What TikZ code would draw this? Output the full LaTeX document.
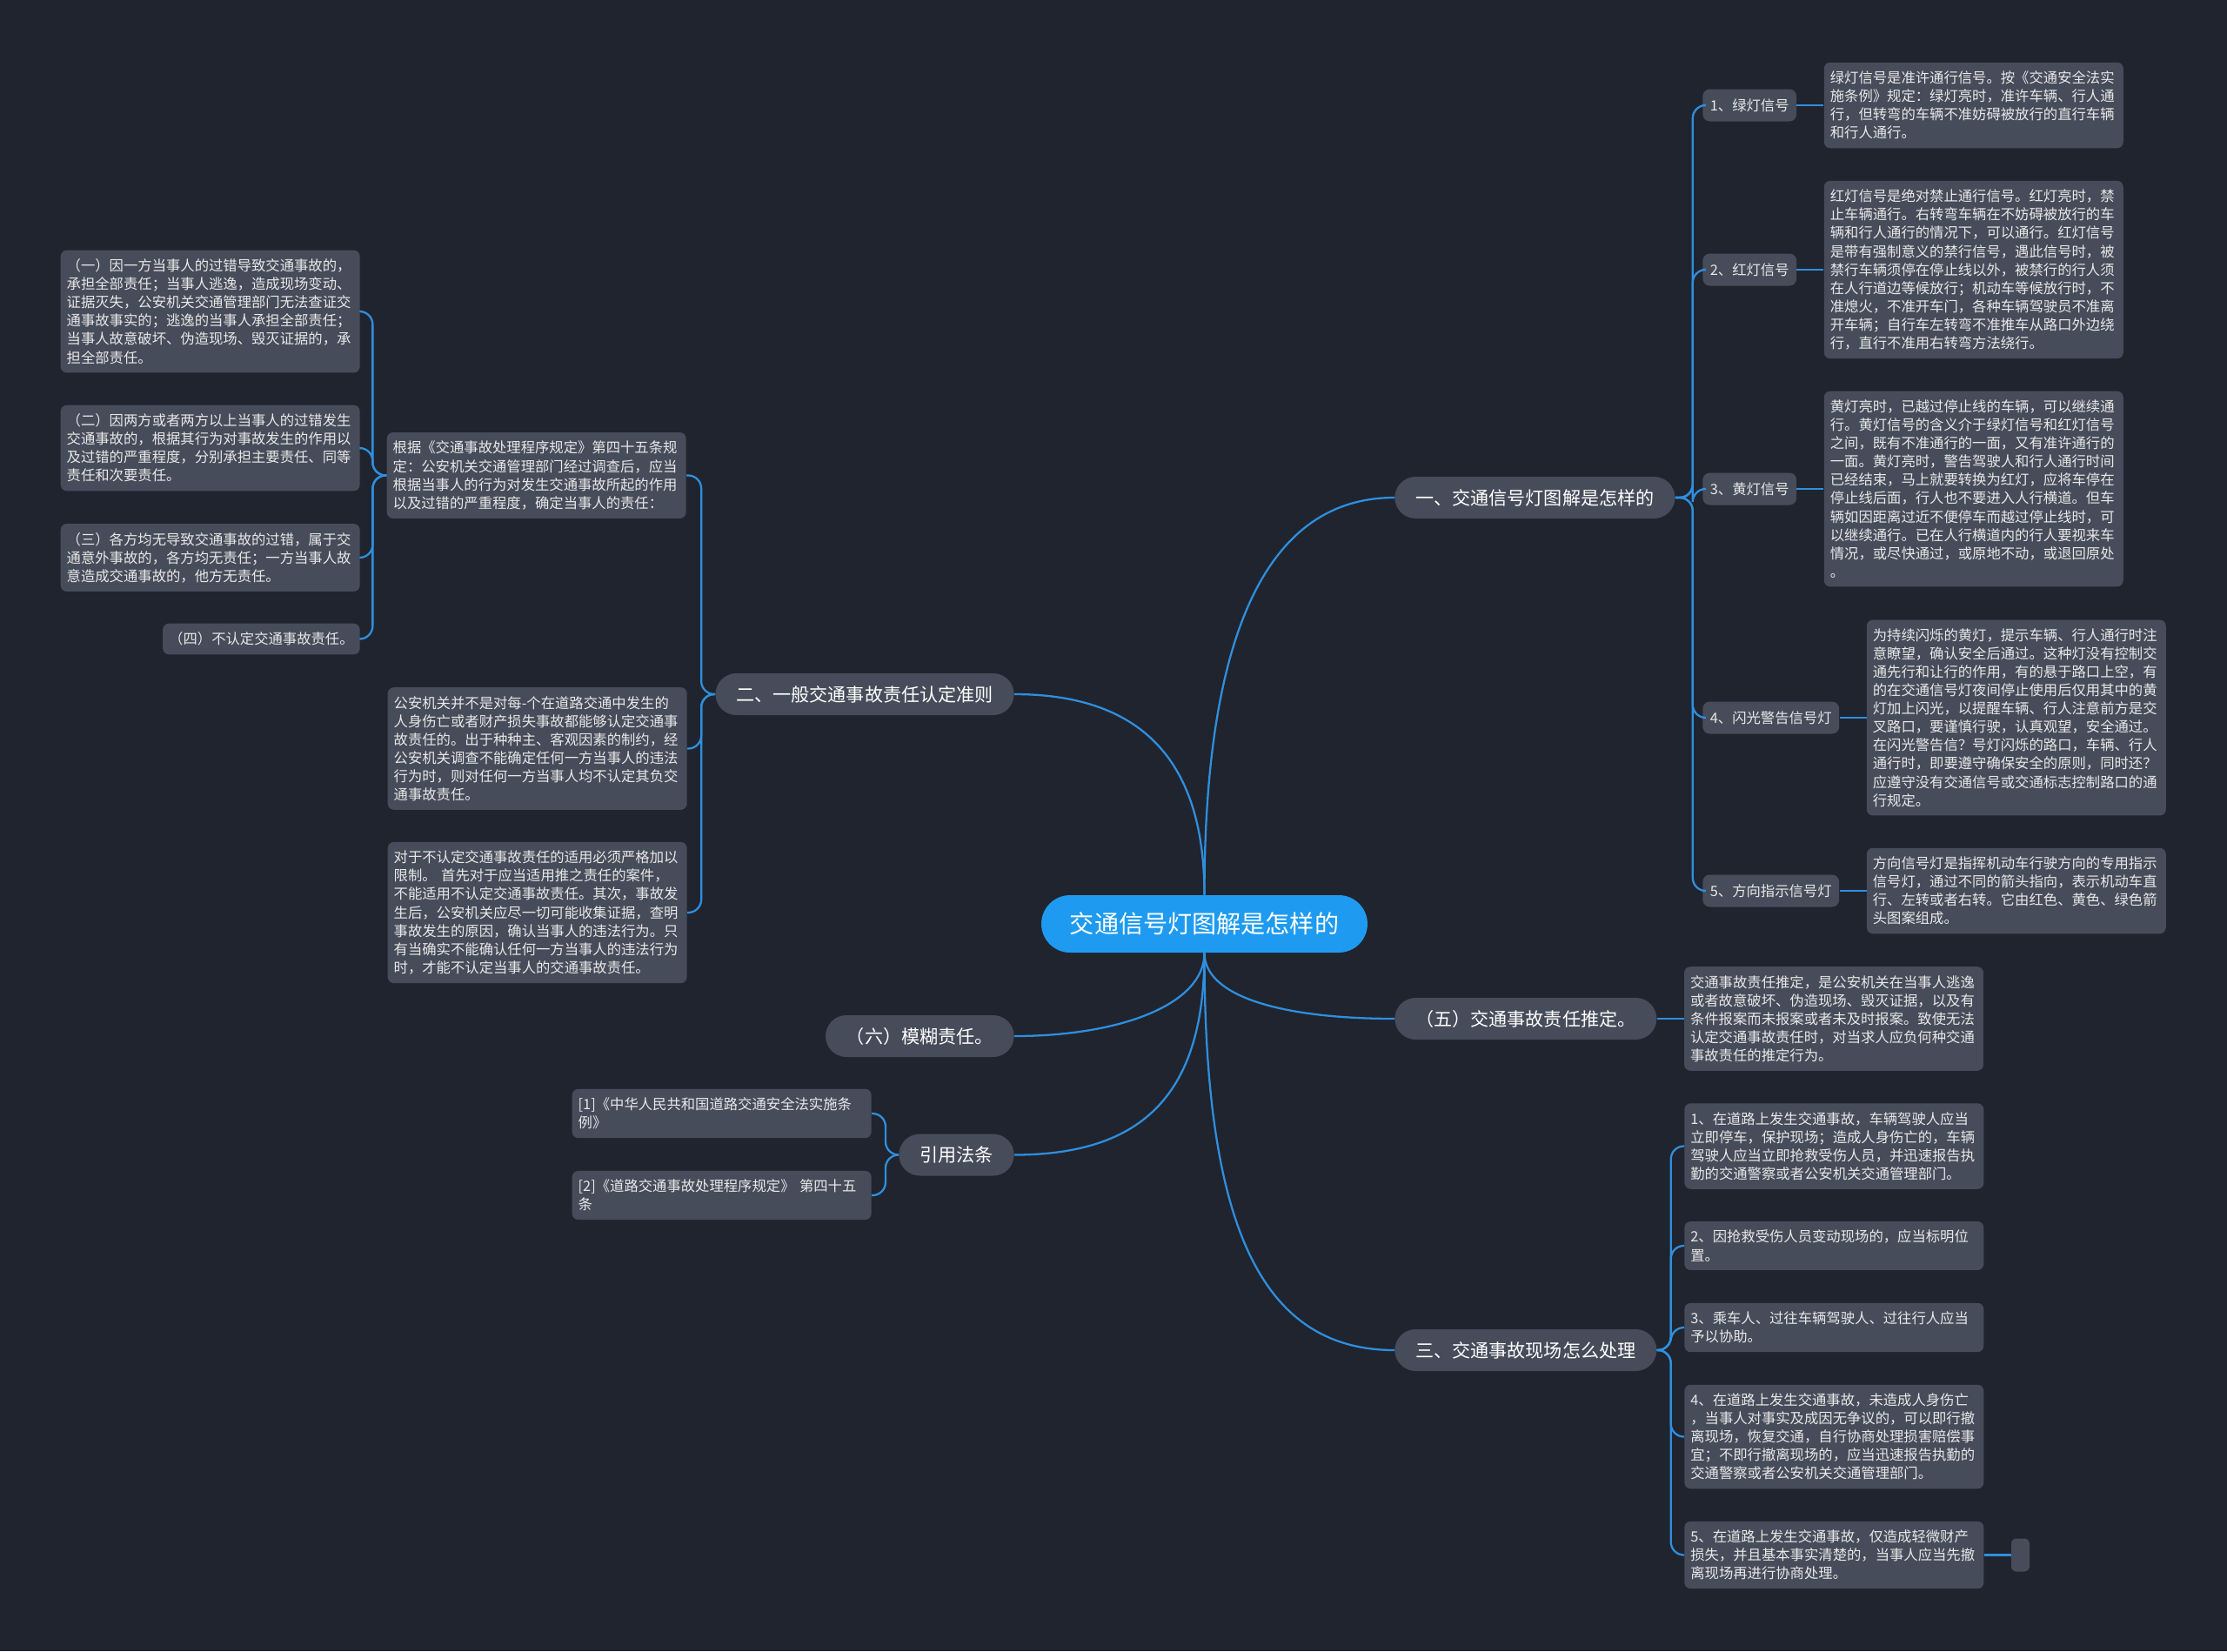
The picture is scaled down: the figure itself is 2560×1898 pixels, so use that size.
\documentclass[tikz,border=0pt]{standalone}
\usepackage{fontspec}
\setmainfont{Noto Sans CJK SC}
\usetikzlibrary{positioning}

\definecolor{bgcol}{HTML}{20242F}
\definecolor{boxcol}{HTML}{474C5A}
\definecolor{rootcol}{HTML}{1E9BF0}
\definecolor{linecol}{HTML}{2F8FDE}
\definecolor{txtcol}{HTML}{E8E8E8}

\begin{document}
\begin{tikzpicture}[
    x=0.02cm, y=-0.02cm,
    root/.style={fill=rootcol, text=white, rounded corners=0.66cm, minimum width=7.5cm, minimum height=1.32cm, font=\fontsize{16}{19}\selectfont},
    topic/.style={fill=boxcol, text=white, rounded corners=0.48cm, minimum height=0.96cm, inner xsep=0.48cm, font=\fontsize{12}{14}\selectfont},
    subtopic/.style={fill=boxcol, text=txtcol, rounded corners=0.16cm, minimum height=0.74cm, inner xsep=0.17cm, font=\fontsize{9.3}{12}\selectfont},
    note/.style={fill=boxcol, text=txtcol, rounded corners=0.14cm, align=left, inner xsep=0.14cm, inner ysep=0.2cm, font=\fontsize{9.3}{12}\selectfont},
    notew/.style={note, text width=6.6cm},
    stub/.style={fill=boxcol, rounded corners=0.12cm, minimum width=0.42cm, minimum height=0.76cm, inner sep=0pt},
    branch/.style={draw=linecol, line width=1.3pt},
    bracket/.style={branch, rounded corners=0.3cm}
]

    % Separacion entre nodo y nota
    \def\gap{0.62cm}

    % Fondo
    \fill[bgcol] (0,0) rectangle (2560,1898);

    % Nodo central y temas principales
    \node[root] (root) at (1384.5,1062) {交通信号灯图解是怎样的};
    \node[topic, anchor=west] (n1) at (1603,572) {一、交通信号灯图解是怎样的};
    \node[topic, anchor=east] (n2) at (1166,798) {二、一般交通事故责任认定准则};
    \node[topic, anchor=west] (n5) at (1603,1171) {（五）交通事故责任推定。};
    \node[topic, anchor=east] (n6) at (1166,1191) {（六）模糊责任。};
    \node[topic, anchor=east] (nref) at (1166,1327.5) {引用法条};
    \node[topic, anchor=west] (n3) at (1603,1552) {三、交通事故现场怎么处理};

    % Rama uno: senales
    \node[subtopic, anchor=west] (l1) at (1957,121) {1、绿灯信号};
    \node[subtopic, anchor=west] (l2) at (1957,310) {2、红灯信号};
    \node[subtopic, anchor=west] (l3) at (1957,562) {3、黄灯信号};
    \node[subtopic, anchor=west] (l4) at (1957,825) {4、闪光警告信号灯};
    \node[subtopic, anchor=west] (l5) at (1957,1024) {5、方向指示信号灯};

    \node[notew, right=\gap of l1] (t1) {绿灯信号是准许通行信号。按《交通安全法实\\
施条例》规定：绿灯亮时，准许车辆、行人通\\
行，但转弯的车辆不准妨碍被放行的直行车辆\\
和行人通行。};
    \node[notew, right=\gap of l2] (t2) {红灯信号是绝对禁止通行信号。红灯亮时，禁\\
止车辆通行。右转弯车辆在不妨碍被放行的车\\
辆和行人通行的情况下，可以通行。红灯信号\\
是带有强制意义的禁行信号，遇此信号时，被\\
禁行车辆须停在停止线以外，被禁行的行人须\\
在人行道边等候放行；机动车等候放行时，不\\
准熄火，不准开车门，各种车辆驾驶员不准离\\
开车辆；自行车左转弯不准推车从路口外边绕\\
行，直行不准用右转弯方法绕行。};
    \node[notew, right=\gap of l3] (t3) {黄灯亮时，已越过停止线的车辆，可以继续通\\
行。黄灯信号的含义介于绿灯信号和红灯信号\\
之间，既有不准通行的一面，又有准许通行的\\
一面。黄灯亮时，警告驾驶人和行人通行时间\\
已经结束，马上就要转换为红灯，应将车停在\\
停止线后面，行人也不要进入人行横道。但车\\
辆如因距离过近不便停车而越过停止线时，可\\
以继续通行。已在人行横道内的行人要视来车\\
情况，或尽快通过，或原地不动，或退回原处\\
。};
    \node[notew, right=\gap of l4] (t4) {为持续闪烁的黄灯，提示车辆、行人通行时注\\
意瞭望，确认安全后通过。这种灯没有控制交\\
通先行和让行的作用，有的悬于路口上空，有\\
的在交通信号灯夜间停止使用后仅用其中的黄\\
灯加上闪光，以提醒车辆、行人注意前方是交\\
叉路口，要谨慎行驶，认真观望，安全通过。\\
在闪光警告信？号灯闪烁的路口，车辆、行人\\
通行时，即要遵守确保安全的原则，同时还？\\
应遵守没有交通信号或交通标志控制路口的通\\
行规定。};
    \node[notew, right=\gap of l5] (t5) {方向信号灯是指挥机动车行驶方向的专用指示\\
信号灯，通过不同的箭头指向，表示机动车直\\
行、左转或者右转。它由红色、黄色、绿色箭\\
头图案组成。};

    % Rama dos: responsabilidad
    \node[notew, anchor=east] (r1) at (789,546.5) {根据《交通事故处理程序规定》第四十五条规\\
定：公安机关交通管理部门经过调查后，应当\\
根据当事人的行为对发生交通事故所起的作用\\
以及过错的严重程度，确定当事人的责任：};
    \node[notew, anchor=east] (r2) at (790,860.5) {公安机关并不是对每-个在道路交通中发生的\\
人身伤亡或者财产损失事故都能够认定交通事\\
故责任的。出于种种主、客观因素的制约，经\\
公安机关调查不能确定任何一方当事人的违法\\
行为时，则对任何一方当事人均不认定其负交\\
通事故责任。};
    \node[notew, anchor=east] (r3) at (790,1049) {对于不认定交通事故责任的适用必须严格加以\\
限制。 首先对于应当适用推之责任的案件，\\
不能适用不认定交通事故责任。其次，事故发\\
生后，公安机关应尽一切可能收集证据，查明\\
事故发生的原因，确认当事人的违法行为。只\\
有当确实不能确认任何一方当事人的违法行为\\
时，才能不认定当事人的交通事故责任。};

    \node[notew, anchor=east] (g1) at (414,358) {（一）因一方当事人的过错导致交通事故的，\\
承担全部责任；当事人逃逸，造成现场变动、\\
证据灭失，公安机关交通管理部门无法查证交\\
通事故事实的；逃逸的当事人承担全部责任；\\
当事人故意破坏、伪造现场、毁灭证据的，承\\
担全部责任。};
    \node[notew, anchor=east] (g2) at (414,515) {（二）因两方或者两方以上当事人的过错发生\\
交通事故的，根据其行为对事故发生的作用以\\
及过错的严重程度，分别承担主要责任、同等\\
责任和次要责任。};
    \node[notew, anchor=east] (g3) at (414,641) {（三）各方均无导致交通事故的过错，属于交\\
通意外事故的，各方均无责任；一方当事人故\\
意造成交通事故的，他方无责任。};
    \node[note, anchor=east] (g4) at (414,734.5) {（四）不认定交通事故责任。};

    % Rama cinco
    \node[notew, right=\gap of n5] (t6) {交通事故责任推定，是公安机关在当事人逃逸\\
或者故意破坏、伪造现场、毁灭证据，以及有\\
条件报案而未报案或者未及时报案。致使无法\\
认定交通事故责任时，对当求人应负何种交通\\
事故责任的推定行为。};

    % Leyes citadas
    \node[notew, anchor=east] (ref1) at (1002,1280) {[1]《中华人民共和国道路交通安全法实施条\\
例》};
    \node[notew, anchor=east] (ref2) at (1002,1374) {[2]《道路交通事故处理程序规定》 第四十五\\
条};

    % Rama tres: actuacion en el lugar
    \node[notew, anchor=west] (c1) at (1936,1317.5) {1、在道路上发生交通事故，车辆驾驶人应当\\
立即停车，保护现场；造成人身伤亡的，车辆\\
驾驶人应当立即抢救受伤人员，并迅速报告执\\
勤的交通警察或者公安机关交通管理部门。};
    \node[notew, anchor=west] (c2) at (1936,1432) {2、因抢救受伤人员变动现场的，应当标明位\\
置。};
    \node[notew, anchor=west] (c3) at (1936,1526) {3、乘车人、过往车辆驾驶人、过往行人应当\\
予以协助。};
    \node[notew, anchor=west] (c4) at (1936,1651.5) {4、在道路上发生交通事故，未造成人身伤亡\\
，当事人对事实及成因无争议的，可以即行撤\\
离现场，恢复交通，自行协商处理损害赔偿事\\
宜；不即行撤离现场的，应当迅速报告执勤的\\
交通警察或者公安机关交通管理部门。};
    \node[notew, anchor=west] (c5) at (1936,1787.5) {5、在道路上发生交通事故，仅造成轻微财产\\
损失，并且基本事实清楚的，当事人应当先撤\\
离现场再进行协商处理。};
    \node[stub, right=\gap of c5] (c6) {};

    % Conexiones desde el nodo central
    \draw[branch] (root.north) .. controls +(0,-270) and +(-160,0) .. (n1.west);
    \draw[branch] (root.north) .. controls +(0,-150) and +(150,0) .. (n2.east);
    \draw[branch] (root.south) .. controls +(0,50) and +(-130,0) .. (n5.west);
    \draw[branch] (root.south) .. controls +(0,60) and +(120,0) .. (n6.east);
    \draw[branch] (root.south) .. controls +(0,160) and +(150,0) .. (nref.east);
    \draw[branch] (root.south) .. controls +(0,300) and +(-160,0) .. (n3.west);

    % Conexiones de las ramas
    \foreach \i in {1,...,5} {
        \draw[bracket] (n1.east) -- ++(20,0) |- (l\i.west);
        \draw[branch] (l\i.east) -- (t\i.west);
    }
    \foreach \i in {1,2,3}
        \draw[bracket] (n2.west) -- ++(-16,0) |- (r\i.east);
    \foreach \i in {1,...,4}
        \draw[bracket] (r1.west) -- ++(-16,0) |- (g\i.east);
    \draw[branch] (n5.east) -- (t6.west);
    \foreach \i in {1,2}
        \draw[bracket] (nref.west) -- ++(-15,0) |- (ref\i.east);
    \foreach \i in {1,...,5}
        \draw[bracket] (n3.east) -- ++(16,0) |- (c\i.west);
    \draw[branch] (c5.east) -- (c6.west);

\end{tikzpicture}
\end{document}
